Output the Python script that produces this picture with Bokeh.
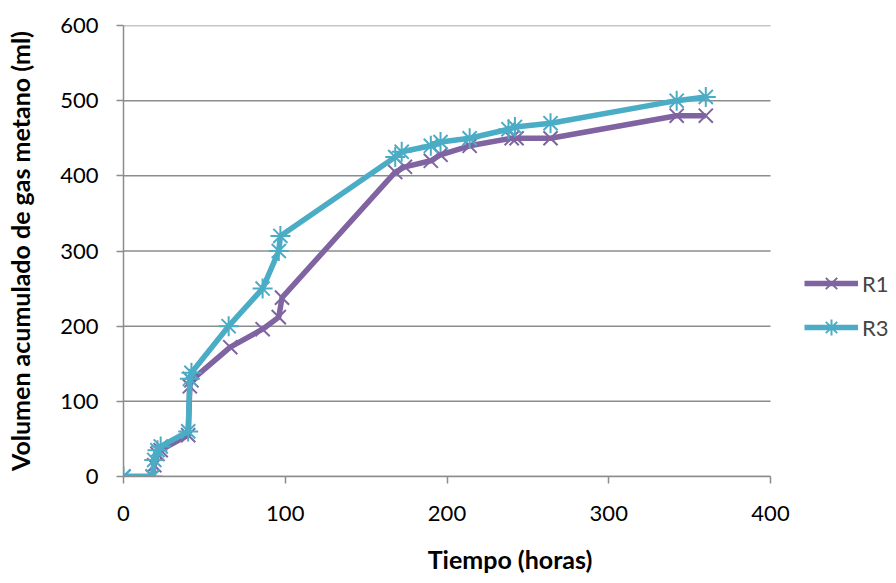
from bokeh.plotting import figure
from bokeh.models import Range1d, Legend, LegendItem, FixedTicker
from bokeh.embed import file_html
from bokeh.resources import INLINE

# Data
t_r1 = [0, 18, 19, 21, 23, 40, 41, 42, 66, 86, 96, 98, 168, 174, 190, 196, 214, 240, 243, 264, 342, 360]
v_r1 = [0, 0, 15, 30, 35, 55, 120, 128, 172, 196, 212, 238, 405, 412, 420, 428, 440, 450, 450, 450, 480, 480]

t_r3 = [0, 18, 19, 21, 23, 40, 41, 42, 65, 86, 96, 97, 168, 172, 190, 196, 214, 238, 242, 264, 342, 360]
v_r3 = [0, 0, 22, 35, 40, 60, 130, 138, 200, 250, 300, 320, 425, 432, 440, 445, 450, 462, 465, 470, 500, 505]

series_names = ["R1", "R3"]
x_ticks = [0, 100, 200, 300, 400]
y_ticks = [0, 100, 200, 300, 400, 500, 600]
x_max, y_max = 400, 600

FONT = "Lato"
C1 = "#8064A2"
C3 = "#4BACC6"
GRID = "#8c8c8c"

# frame spans the plot area plus the legend zone on the right;
# the x axis itself is bounded to 0..400
frame_left, plot_right, frame_right = 123, 770, 896
x_end = x_max * (frame_right - frame_left) / (plot_right - frame_left)

p = figure(width=896, height=583, output_backend="svg", toolbar_location=None,
           x_range=Range1d(0, x_end), y_range=Range1d(0, y_max),
           min_border_left=frame_left, min_border_right=896 - frame_right,
           min_border_top=25, min_border_bottom=107)
p.outline_line_color = None
p.background_fill_color = "white"
p.border_fill_color = "white"

p.xgrid.grid_line_color = None
p.ygrid.grid_line_color = None
# horizontal gridlines limited to the plotting area (0..400)
p.segment(x0=[0] * len(y_ticks), x1=[x_max] * len(y_ticks), y0=y_ticks, y1=y_ticks,
          line_color=GRID, line_width=1.5)

for ax in (p.xaxis[0], p.yaxis[0]):
    ax.axis_line_color = GRID
    ax.axis_line_width = 1.5
    ax.major_tick_line_color = GRID
    ax.major_tick_line_width = 1.5
    ax.major_tick_out = 7
    ax.major_tick_in = 0
    ax.minor_tick_line_color = None
    ax.major_label_text_font = FONT
    ax.major_label_text_font_size = "22px"
    ax.major_label_text_color = "black"
    ax.axis_label_text_font = FONT
    ax.axis_label_text_font_style = "bold"
    ax.axis_label_text_font_size = "25px"
    ax.axis_label_text_color = "black"

p.xaxis.bounds = (0, x_max)
p.xaxis.ticker = FixedTicker(ticks=x_ticks)
p.yaxis.ticker = FixedTicker(ticks=y_ticks)
p.xaxis.axis_label = "Tiempo (horas)"
p.yaxis.axis_label = "Volumen acumulado de gas metano (ml)"
p.yaxis.major_label_standoff = 18
p.xaxis.major_label_standoff = 22
p.yaxis.axis_label_standoff = 22
p.xaxis.axis_label_standoff = 20

l1 = p.line(t_r1, v_r1, line_color=C1, line_width=5.5, line_join="round")
m1 = p.scatter(t_r1, v_r1, marker="x", size=20, line_color=C1, line_width=2)
l3 = p.line(t_r3, v_r3, line_color=C3, line_width=5.5, line_join="round")
m3 = p.scatter(t_r3, v_r3, marker="asterisk", size=20, line_color=C3, line_width=2)

legend = Legend(items=[LegendItem(label=series_names[0], renderers=[l1, m1]),
                       LegendItem(label=series_names[1], renderers=[l3, m3])],
                location=(681, 129), orientation="vertical")
legend.border_line_color = None
legend.background_fill_alpha = 0
legend.label_text_font = FONT
legend.label_text_font_size = "22px"
legend.glyph_width = 54
legend.glyph_height = 40
legend.label_height = 22
legend.spacing = 4
legend.label_standoff = 4
legend.padding = 0
legend.margin = 0
p.add_layout(legend, "center")

open("out.html", "w").write(file_html(p, INLINE))
